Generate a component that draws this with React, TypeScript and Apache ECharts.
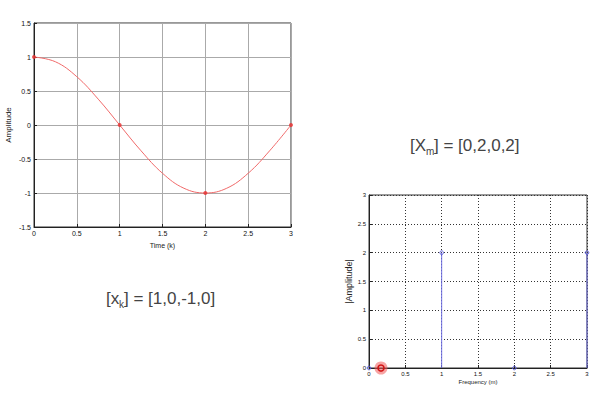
import React, { useEffect, useRef } from "react";
import * as echarts from "echarts";

// Left chart: time-domain signal x_k
const timeCurveK = [0, 0.25, 0.5, 0.75, 1, 1.25, 1.5, 1.75, 2, 2.25, 2.5, 2.75, 3];
const timeCurveAmp = [1, 0.93, 0.71, 0.38, 0, -0.38, -0.71, -0.93, -1, -0.93, -0.71, -0.38, 0];
const sampleK = [0, 1, 2, 3];
const sampleX = [1, 0, -1, 0];

// Right chart: magnitude spectrum |X_m|
const freqM = [0, 1, 2, 3];
const magX = [0, 2, 0, 2];

const leftXTicks = [0, 0.5, 1, 1.5, 2, 2.5, 3];
const leftYTicks = [-1.5, -1, -0.5, 0, 0.5, 1, 1.5];

const App: React.FC = () => {
  const ref = useRef<HTMLDivElement>(null);
  useEffect(() => {
    if (!ref.current) return;
    const chart = echarts.init(ref.current, undefined, { renderer: "svg" });
    const font = "Liberation Sans";
    const mkAxis = (labelSize: number, nameSize: number) => ({
      axisLine: { show: true, onZero: false, lineStyle: { color: "#222", width: 1 } },
      axisTick: { show: true, inside: true, length: 3, lineStyle: { color: "#222" } },
      axisLabel: { color: "#111", fontSize: labelSize, fontFamily: font, margin: 3 },
      nameTextStyle: { color: "#222", fontSize: nameSize, fontFamily: font },
    });
    chart.setOption({
      animation: false,
      backgroundColor: "#ffffff",
      grid: [
        { left: 34, top: 23, width: 257, height: 204, show: true, borderColor: "#333", borderWidth: 1, backgroundColor: "transparent" },
        { left: 369, top: 195, width: 218, height: 173, show: true, borderColor: "#333", borderWidth: 1, backgroundColor: "transparent" },
      ],
      xAxis: [
        {
          ...mkAxis(7, 7),
          type: "value",
          gridIndex: 0,
          min: leftXTicks[0],
          max: leftXTicks[leftXTicks.length - 1],
          interval: 0.5,
          name: "Time (k)",
          nameLocation: "middle",
          nameGap: 13,
          splitLine: { show: true, lineStyle: { color: "#aaa", width: 1 } },
        },
        {
          ...mkAxis(6, 6),
          type: "value",
          gridIndex: 1,
          min: 0,
          max: 3,
          interval: 0.5,
          name: "Frequency (m)",
          nameLocation: "middle",
          nameGap: 11,
          splitLine: { show: true, lineStyle: { color: "#333", width: 1, type: [1, 2] } },
        },
      ],
      yAxis: [
        {
          ...mkAxis(7, 8),
          type: "value",
          gridIndex: 0,
          min: leftYTicks[0],
          max: leftYTicks[leftYTicks.length - 1],
          interval: 0.5,
          name: "Amplitude",
          nameLocation: "middle",
          nameGap: 22,
          splitLine: { show: true, lineStyle: { color: "#aaa", width: 1 } },
        },
        {
          ...mkAxis(6, 9),
          type: "value",
          gridIndex: 1,
          min: 0,
          max: 3,
          interval: 0.5,
          name: "|Amplitude|",
          nameLocation: "middle",
          nameGap: 12,
          splitLine: { show: true, lineStyle: { color: "#333", width: 1, type: [1, 2] } },
        },
      ],
      series: [
        {
          type: "line",
          xAxisIndex: 0,
          yAxisIndex: 0,
          smooth: 0.4,
          showSymbol: false,
          data: timeCurveK.map((k, i) => [k, timeCurveAmp[i]]),
          lineStyle: { color: "#f06a6a", width: 1 },
          z: 3,
        },
        {
          type: "scatter",
          xAxisIndex: 0,
          yAxisIndex: 0,
          symbol: "circle",
          symbolSize: 4,
          itemStyle: { color: "#e83030" },
          data: sampleK.map((k, i) => [k, sampleX[i]]),
          z: 4,
        },
        {
          type: "custom",
          xAxisIndex: 1,
          yAxisIndex: 1,
          data: freqM.map((m, i) => [m, magX[i]]),
          renderItem: (params: any, api: any) => {
            const top = api.coord([api.value(0), api.value(1)]);
            const base = api.coord([api.value(0), 0]);
            return {
              type: "group",
              children: [
                {
                  type: "line",
                  shape: { x1: base[0], y1: base[1], x2: top[0], y2: top[1] },
                  style: { stroke: "#6f6fe0", lineWidth: 1 },
                },
                {
                  type: "circle",
                  shape: { cx: top[0], cy: top[1], r: 1.8 },
                  style: { stroke: "#5a5ad8", fill: "none", lineWidth: 1 },
                },
              ],
            };
          },
          z: 4,
        },
      ],
      graphic: [
        {
          type: "group",
          left: 106,
          top: 290,
          children: [
            { type: "text", x: 0, y: 0, style: { text: "[x", fontSize: 17, fontFamily: font, fill: "#444" } },
            { type: "text", x: 13, y: 9, style: { text: "k", fontSize: 10, fontFamily: font, fill: "#444" } },
            { type: "text", x: 18, y: 0, style: { text: "] = [1,0,-1,0]", fontSize: 17, fontFamily: font, fill: "#444" } },
          ],
        },
        {
          type: "group",
          left: 410,
          top: 137,
          children: [
            { type: "text", x: 0, y: 0, style: { text: "[X", fontSize: 17, fontFamily: font, fill: "#444" } },
            { type: "text", x: 16, y: 9, style: { text: "m", fontSize: 10, fontFamily: font, fill: "#444" } },
            { type: "text", x: 24, y: 0, style: { text: "] = [0,2,0,2]", fontSize: 17, fontFamily: font, fill: "#444" } },
          ],
        },
        {
          type: "circle",
          shape: { cx: 381, cy: 368, r: 6.5 },
          style: { fill: "rgba(240,90,90,0.55)", stroke: "none" },
          z: 10,
        },
        {
          type: "circle",
          shape: { cx: 381, cy: 368, r: 3 },
          style: { fill: "none", stroke: "#d01010", lineWidth: 1.5 },
          z: 11,
        },
      ],
    });
    return () => chart.dispose();
  }, []);
  return (
    <div
      ref={ref}
      style={{ position: "absolute", left: 0, top: 0, width: 612, height: 400 }}
    />
  );
};

export default App;
